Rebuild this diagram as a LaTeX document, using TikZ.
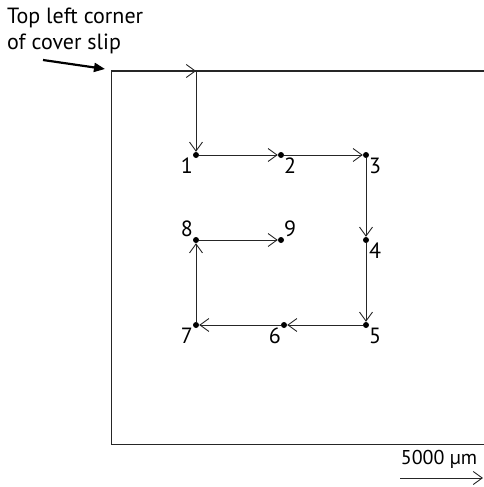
\documentclass[tikz,border=0pt]{standalone}
\usepackage{fontspec}
\setmainfont{PT Sans}
\usetikzlibrary{arrows.meta}

\begin{document}
\begin{tikzpicture}[
  x=1pt, y=-1pt,
  font=\fontsize{22}{26}\selectfont,
  every node/.style={align=left},
  %% ─── styles ──────────────────────────────────────────────
  slip/.style={line width=1pt, black!85},
  pt/.style={circle, fill=black, inner sep=0pt, minimum size=6pt},
  ptlabel/.style={inner sep=0pt, label distance=1pt},
  path/.style={-{Straight Barb[length=9pt, width=13pt, line width=0.9pt]}, line width=1pt, black!85},
  pointer/.style={-{Triangle[length=11pt, width=9pt]}, line width=2.2pt}
]
  \useasboundingbox (0,0) rectangle (483,487);

  %% ─── 1. cover slip outline ───────────────────────────────
  \coordinate (corner) at (111,71);
  \coordinate (start)  at (196,71);
  \coordinate (topend) at (484,71);
  \coordinate (botleft) at (111,444);
  \coordinate (botend) at (484,444);
  \draw[slip] (topend) -- (corner) -- (botleft) -- (botend);

  \node[anchor=north west, inner sep=0pt] (note) at (7,8) {Top left corner\\of cover slip};
  \coordinate (tail) at (43,60);
  \draw[pointer] (tail) -- ([xshift=-6pt,yshift=2pt]corner);

  %% ─── 2. scan points ──────────────────────────────────────
  \node[pt, label={[ptlabel]below left:1}]  (p1) at (196,155) {};
  \node[pt, label={[ptlabel]below right:2}] (p2) at (281,155) {};
  \node[pt, label={[ptlabel]below right:3}] (p3) at (366,155) {};
  \node[pt, label={[ptlabel]below right:4}] (p4) at (366,240) {};
  \node[pt, label={[ptlabel]below right:5}] (p5) at (366,325) {};
  \node[pt, label={[ptlabel]below left:6}]  (p6) at (284,325) {};
  \node[pt, label={[ptlabel]below left:7}]  (p7) at (196,325) {};
  \node[pt, label={[ptlabel]above left:8}]  (p8) at (196,240) {};
  \node[pt, label={[ptlabel]above right:9}] (p9) at (281,240) {};

  %% ─── 3. scan route ───────────────────────────────────────
  \draw[path] (corner) -- (start);
  \draw[path] (start) -- (p1);
  \foreach \s/\t in {p1/p2, p2/p3, p3/p4, p4/p5, p5/p6, p6/p7, p7/p8, p8/p9} {
    \draw[path] (\s) -- (\t);
  }

  %% ─── 4. scale bar ────────────────────────────────────────
  \coordinate (barL) at (400,478);
  \coordinate (barR) at (483,478);
  \draw[path] (barL) -- (barR);
  \node[anchor=south, inner sep=2pt, font=\fontsize{20}{24}\selectfont] (barlabel) at (439,471) {5000 µm};
\end{tikzpicture}
\end{document}
